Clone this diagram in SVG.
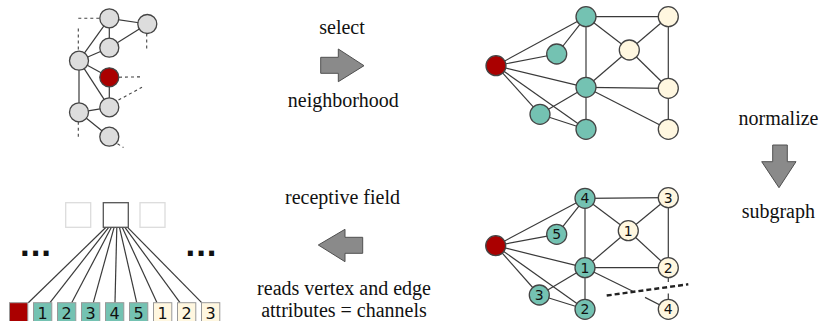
<svg xmlns="http://www.w3.org/2000/svg" width="822" height="321" viewBox="0 0 822 321">
<style>
.e{stroke:#3a3a3a;stroke-width:1.2;fill:none}
.d{stroke:#444;stroke-width:1.1;fill:none;stroke-dasharray:3,3}
.dd{stroke:#222;stroke-width:2.4;fill:none;stroke-dasharray:5,3}
.g{fill:#dddddd;stroke:#444;stroke-width:1.3}
.r{fill:#aa0000;stroke:#444;stroke-width:1.3}
.t{fill:#74c2b2;stroke:#444;stroke-width:1.3}
.y{fill:#fff7e0;stroke:#444;stroke-width:1.3}
.lbl{font-family:"Liberation Serif",serif;font-size:20px;fill:#111;text-anchor:middle}
.num{font-family:"DejaVu Sans",sans-serif;font-size:14px;fill:#111;text-anchor:middle}
.bn{font-family:"DejaVu Sans",sans-serif;font-size:16px;fill:#111;text-anchor:middle}
.arr{fill:#8a8a8a;stroke:#505050;stroke-width:1}
.bx{stroke:#999;stroke-width:1}
.dots{font-family:"DejaVu Sans",sans-serif;font-weight:bold;font-size:28px;fill:#111;text-anchor:middle}
</style>

<!-- Top-left graph -->
<g id="connectors-tl">
<line class="e" x1="109.3" y1="18.3" x2="147.3" y2="24"/>
<line class="e" x1="109.3" y1="18.3" x2="109.3" y2="47.7"/>
<line class="e" x1="109.3" y1="47.7" x2="147.3" y2="24"/>
<line class="e" x1="79" y1="60.7" x2="109.3" y2="18.3"/>
<line class="e" x1="79" y1="60.7" x2="109.3" y2="47.7"/>
<line class="e" x1="79" y1="60.7" x2="109.3" y2="77.3"/>
<line class="e" x1="79" y1="60.7" x2="109.3" y2="107.3"/>
<line class="e" x1="109.3" y1="77.3" x2="109.3" y2="107.3"/>
<line class="e" x1="79" y1="60.7" x2="79" y2="112.3"/>
<line class="e" x1="79" y1="112.3" x2="109.3" y2="107.3"/>
<line class="e" x1="79" y1="112.3" x2="109.3" y2="136.7"/>
<line class="d" x1="78.3" y1="18.3" x2="100" y2="18.3"/>
<line class="d" x1="78.3" y1="28.5" x2="78.3" y2="50.5"/>
<line class="d" x1="146.7" y1="33.5" x2="146.7" y2="50.5"/>
<line class="d" x1="119" y1="77.2" x2="142" y2="76.8"/>
<line class="d" x1="118.5" y1="100" x2="142" y2="87.3"/>
<line class="d" x1="78.3" y1="121.8" x2="78.3" y2="138.5"/>
<line class="d" x1="117.5" y1="143.8" x2="123.5" y2="147.5"/>
</g>
<g id="tl-A"><circle class="g" cx="109.3" cy="18.3" r="9.5"/></g>
<g id="tl-B"><circle class="g" cx="147.3" cy="24" r="9.5"/></g>
<g id="tl-C"><circle class="g" cx="109.3" cy="47.7" r="9.5"/></g>
<g id="tl-D"><circle class="g" cx="79" cy="60.7" r="9.5"/></g>
<g id="tl-E"><circle class="r" cx="109.3" cy="77.3" r="9.5"/></g>
<g id="tl-F"><circle class="g" cx="109.3" cy="107.3" r="9.5"/></g>
<g id="tl-G"><circle class="g" cx="79" cy="112.3" r="9.5"/></g>
<g id="tl-H"><circle class="g" cx="109.3" cy="136.7" r="9.5"/></g>

<!-- Top-right graph -->
<g id="connectors-tr">
<line class="e" x1="496" y1="65.7" x2="586" y2="16.7"/>
<line class="e" x1="496" y1="65.7" x2="556.7" y2="54"/>
<line class="e" x1="496" y1="65.7" x2="586" y2="87.3"/>
<line class="e" x1="496" y1="65.7" x2="540" y2="114.3"/>
<line class="e" x1="496" y1="65.7" x2="586" y2="129.3"/>
<line class="e" x1="586" y1="16.7" x2="556.7" y2="54"/>
<line class="e" x1="586" y1="16.7" x2="668.3" y2="16.7"/>
<line class="e" x1="586" y1="16.7" x2="586" y2="87.3"/>
<line class="e" x1="586" y1="16.7" x2="629.3" y2="50"/>
<line class="e" x1="629.3" y1="50" x2="668.3" y2="16.7"/>
<line class="e" x1="629.3" y1="50" x2="586" y2="87.3"/>
<line class="e" x1="629.3" y1="50" x2="668.3" y2="88.3"/>
<line class="e" x1="668.3" y1="16.7" x2="668.3" y2="88.3"/>
<line class="e" x1="586" y1="87.3" x2="668.3" y2="88.3"/>
<line class="e" x1="586" y1="87.3" x2="540" y2="114.3"/>
<line class="e" x1="586" y1="87.3" x2="586" y2="129.3"/>
<line class="e" x1="586" y1="87.3" x2="668.3" y2="129.3"/>
<line class="e" x1="540" y1="114.3" x2="586" y2="129.3"/>
<line class="e" x1="668.3" y1="88.3" x2="668.3" y2="129.3"/>
</g>
<g id="tr-R"><circle class="r" cx="496" cy="65.7" r="10"/></g>
<g id="tr-T1"><circle class="t" cx="586" cy="16.7" r="10"/></g>
<g id="tr-T2"><circle class="t" cx="556.7" cy="54" r="10"/></g>
<g id="tr-T3"><circle class="t" cx="586" cy="87.3" r="10"/></g>
<g id="tr-T4"><circle class="t" cx="540" cy="114.3" r="10"/></g>
<g id="tr-T5"><circle class="t" cx="586" cy="129.3" r="10"/></g>
<g id="tr-Y1"><circle class="y" cx="668.3" cy="16.7" r="10"/></g>
<g id="tr-Y2"><circle class="y" cx="629.3" cy="50" r="10"/></g>
<g id="tr-Y3"><circle class="y" cx="668.3" cy="88.3" r="10"/></g>
<g id="tr-Y4"><circle class="y" cx="668.3" cy="129.3" r="10"/></g>

<!-- Bottom-right graph -->
<g id="connectors-br">
<line class="e" x1="495.7" y1="245.7" x2="585" y2="198.3"/>
<line class="e" x1="495.7" y1="245.7" x2="556.7" y2="234.3"/>
<line class="e" x1="495.7" y1="245.7" x2="585" y2="267.7"/>
<line class="e" x1="495.7" y1="245.7" x2="539.3" y2="295"/>
<line class="e" x1="495.7" y1="245.7" x2="585" y2="309.3"/>
<line class="e" x1="585" y1="198.3" x2="556.7" y2="234.3"/>
<line class="e" x1="585" y1="198.3" x2="668.3" y2="197.7"/>
<line class="e" x1="585" y1="198.3" x2="585" y2="267.7"/>
<line class="e" x1="585" y1="198.3" x2="628.3" y2="230.7"/>
<line class="e" x1="628.3" y1="230.7" x2="668.3" y2="197.7"/>
<line class="e" x1="628.3" y1="230.7" x2="585" y2="267.7"/>
<line class="e" x1="628.3" y1="230.7" x2="668.3" y2="267.7"/>
<line class="e" x1="668.3" y1="197.7" x2="668.3" y2="267.7"/>
<line class="e" x1="585" y1="267.7" x2="668.3" y2="267.7"/>
<line class="e" x1="585" y1="267.7" x2="539.3" y2="295"/>
<line class="e" x1="585" y1="267.7" x2="585" y2="309.3"/>
<line class="e" x1="539.3" y1="295" x2="585" y2="309.3"/>
<line class="e" x1="585" y1="267.7" x2="633.3" y2="291.5"/>
<line class="e" x1="645" y1="297.4" x2="668.3" y2="309.3"/>
<line class="e" x1="668.3" y1="267.7" x2="668.3" y2="282"/>
<line class="e" x1="668.3" y1="293.5" x2="668.3" y2="309.3"/>
<line class="dd" x1="606.7" y1="295.5" x2="688.3" y2="284.3"/>
</g>
<g id="br-R"><circle class="r" cx="495.7" cy="245.7" r="10"/></g>
<g id="br-T4"><circle class="t" cx="585" cy="198.3" r="10"/><text class="num" x="585" y="203.4">4</text></g>
<g id="br-T5"><circle class="t" cx="556.7" cy="234.3" r="10"/><text class="num" x="556.7" y="239.4">5</text></g>
<g id="br-T1"><circle class="t" cx="585" cy="267.7" r="10"/><text class="num" x="585" y="272.8">1</text></g>
<g id="br-T3"><circle class="t" cx="539.3" cy="295" r="10"/><text class="num" x="539.3" y="300.1">3</text></g>
<g id="br-T2"><circle class="t" cx="585" cy="309.3" r="10"/><text class="num" x="585" y="314.4">2</text></g>
<g id="br-Y3"><circle class="y" cx="668.3" cy="197.7" r="10"/><text class="num" x="668.3" y="202.8">3</text></g>
<g id="br-Y1"><circle class="y" cx="628.3" cy="230.7" r="10"/><text class="num" x="628.3" y="235.8">1</text></g>
<g id="br-Y2"><circle class="y" cx="668.3" cy="267.7" r="10"/><text class="num" x="668.3" y="272.8">2</text></g>
<g id="br-Y4"><circle class="y" cx="668.3" cy="309.3" r="10"/><text class="num" x="668.3" y="314.4">4</text></g>

<!-- Bottom-left receptive field -->
<g id="connectors-bl">
<line class="e" x1="106" y1="227.3" x2="28.3" y2="302.7"/>
<line class="e" x1="108.7" y1="227.3" x2="50" y2="302.7"/>
<line class="e" x1="111.4" y1="227.3" x2="71.7" y2="302.7"/>
<line class="e" x1="114.1" y1="227.3" x2="93.3" y2="302.7"/>
<line class="e" x1="116.8" y1="227.3" x2="115" y2="302.7"/>
<line class="e" x1="119.5" y1="227.3" x2="136.7" y2="302.7"/>
<line class="e" x1="122.2" y1="227.3" x2="157" y2="302.7"/>
<line class="e" x1="124.9" y1="227.3" x2="180" y2="302.7"/>
<line class="e" x1="127.6" y1="227.3" x2="201.7" y2="302.7"/>
</g>
<g id="sq-left"><rect x="65.7" y="202.7" width="25" height="24.6" fill="#fff" stroke="#dcdcdc" stroke-width="1.3"/></g>
<g id="sq-mid"><rect x="103.3" y="202.7" width="25" height="24.6" fill="#fff" stroke="#555" stroke-width="1.3"/></g>
<g id="sq-right"><rect x="140" y="202.7" width="25" height="24.6" fill="#fff" stroke="#dcdcdc" stroke-width="1.3"/></g>
<g id="dots-left"><text class="dots" x="35.5" y="256">...</text></g>
<g id="dots-right"><text class="dots" x="201" y="256">...</text></g>
<g id="box-r"><rect class="bx" x="9.5" y="302.7" width="18.3" height="20" fill="#aa0000"/></g>
<g id="box-t1"><rect class="bx" x="33.5" y="302.7" width="18.3" height="20" fill="#74c2b2"/><text class="bn" x="42.6" y="318.5">1</text></g>
<g id="box-t2"><rect class="bx" x="57.5" y="302.7" width="18.3" height="20" fill="#74c2b2"/><text class="bn" x="66.6" y="318.5">2</text></g>
<g id="box-t3"><rect class="bx" x="81.5" y="302.7" width="18.3" height="20" fill="#74c2b2"/><text class="bn" x="90.6" y="318.5">3</text></g>
<g id="box-t4"><rect class="bx" x="105.5" y="302.7" width="18.3" height="20" fill="#74c2b2"/><text class="bn" x="114.6" y="318.5">4</text></g>
<g id="box-t5"><rect class="bx" x="129.5" y="302.7" width="18.3" height="20" fill="#74c2b2"/><text class="bn" x="138.6" y="318.5">5</text></g>
<g id="box-y1"><rect class="bx" x="153.5" y="302.7" width="18.3" height="20" fill="#fff7e0"/><text class="bn" x="162.6" y="318.5">1</text></g>
<g id="box-y2"><rect class="bx" x="177.5" y="302.7" width="18.3" height="20" fill="#fff7e0"/><text class="bn" x="186.6" y="318.5">2</text></g>
<g id="box-y3"><rect class="bx" x="201.5" y="302.7" width="18.3" height="20" fill="#fff7e0"/><text class="bn" x="210.6" y="318.5">3</text></g>

<!-- Arrows and labels -->
<g id="step-select">
<text class="lbl" x="342" y="34">select</text>
<path class="arr" d="M320.7,57.3 H338.3 V49 L364,65.7 L338.3,81.7 V73.3 H320.7 Z"/>
<text class="lbl" x="343.3" y="107">neighborhood</text>
</g>
<g id="step-normalize">
<text class="lbl" x="778.5" y="125">normalize</text>
<path class="arr" d="M772.7,145 H787.3 V161.7 H796 L779,187.7 L761.7,161.7 H772.7 Z"/>
<text class="lbl" x="778.3" y="218">subgraph</text>
</g>
<g id="step-receptive">
<text class="lbl" x="342.5" y="203.5">receptive field</text>
<path class="arr" d="M362.7,237.3 H345 V229.3 L318.3,245 L345,261.7 V253.3 H362.7 Z"/>
<text class="lbl" x="344" y="295">reads vertex and edge</text>
<text class="lbl" x="344" y="316.5">attributes = channels</text>
</g>
</svg>
